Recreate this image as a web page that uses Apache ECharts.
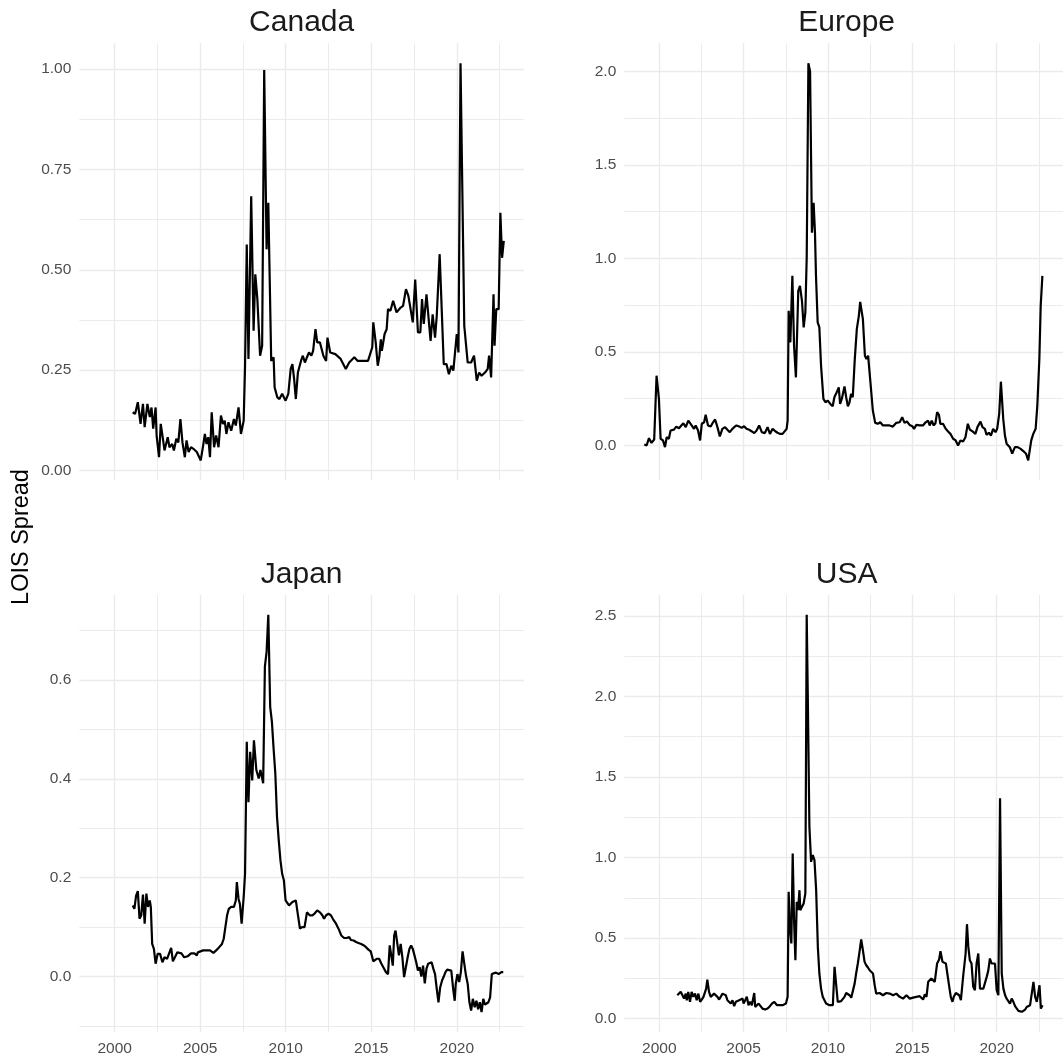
<!DOCTYPE html>
<html>
<head>
<meta charset="utf-8">
<title>LOIS Spread</title>
<script src="https://cdn.jsdelivr.net/npm/echarts@6/dist/echarts.min.js"></script>
<style>
  html, body { margin: 0; padding: 0; background: #ffffff; }
  #chart { width: 1063px; height: 1061px; }
</style>
</head>
<body>
<div id="chart"></div>
<script>
// LOIS spread by region: [decimal year, spread]
const canada = [
  [2001.05,0.145],[2001.19,0.141],[2001.35,0.170],[2001.51,0.116],[2001.65,0.166],[2001.75,0.108],[2001.91,0.166],
  [2002.05,0.133],[2002.15,0.157],[2002.25,0.104],[2002.39,0.157],[2002.45,0.087],[2002.59,0.033],[2002.69,0.116],
  [2002.83,0.075],[2002.91,0.050],[2003.10,0.083],[2003.20,0.058],[2003.36,0.066],[2003.46,0.050],[2003.60,0.079],
  [2003.72,0.070],[2003.84,0.128],[2003.96,0.070],[2004.10,0.033],[2004.20,0.075],[2004.32,0.046],[2004.46,0.058],
  [2004.60,0.054],[2004.80,0.046],[2005.03,0.025],[2005.17,0.062],[2005.27,0.091],[2005.37,0.066],[2005.47,0.083],
  [2005.57,0.033],[2005.67,0.145],[2005.81,0.058],[2005.93,0.087],[2006.07,0.058],[2006.21,0.137],[2006.33,0.116],
  [2006.43,0.124],[2006.53,0.091],[2006.65,0.120],[2006.81,0.099],[2006.97,0.128],[2007.08,0.112],[2007.24,0.157],
  [2007.38,0.091],[2007.54,0.124],[2007.62,0.261],[2007.72,0.563],[2007.82,0.278],[2007.98,0.683],[2008.12,0.348],
  [2008.22,0.489],[2008.34,0.427],[2008.50,0.286],[2008.62,0.311],[2008.74,0.998],[2008.88,0.551],[2008.98,0.667],
  [2009.15,0.273],[2009.29,0.282],[2009.35,0.207],[2009.51,0.182],[2009.63,0.178],[2009.79,0.191],[2009.99,0.174],
  [2010.15,0.191],[2010.29,0.253],[2010.39,0.265],[2010.49,0.228],[2010.59,0.178],[2010.71,0.244],[2010.89,0.273],
  [2011.00,0.286],[2011.12,0.269],[2011.24,0.282],[2011.36,0.294],[2011.50,0.286],[2011.60,0.298],[2011.74,0.352],
  [2011.84,0.319],[2012.00,0.319],[2012.20,0.286],[2012.36,0.273],[2012.44,0.331],[2012.60,0.294],[2012.90,0.290],
  [2013.21,0.278],[2013.51,0.253],[2013.71,0.269],[2014.01,0.282],[2014.21,0.273],[2014.81,0.273],[2015.06,0.307],
  [2015.12,0.369],[2015.26,0.319],[2015.38,0.261],[2015.48,0.286],[2015.56,0.327],[2015.62,0.298],[2015.78,0.340],
  [2015.90,0.352],[2015.98,0.402],[2016.12,0.398],[2016.28,0.423],[2016.48,0.394],[2016.72,0.406],[2016.86,0.410],
  [2017.03,0.452],[2017.17,0.435],[2017.43,0.369],[2017.57,0.476],[2017.73,0.344],[2017.87,0.344],[2017.97,0.427],
  [2018.07,0.365],[2018.23,0.439],[2018.47,0.323],[2018.59,0.389],[2018.73,0.331],[2018.83,0.385],[2019.00,0.539],
  [2019.24,0.265],[2019.40,0.265],[2019.54,0.240],[2019.68,0.261],[2019.80,0.249],[2020.00,0.340],[2020.10,0.294],
  [2020.22,1.015],[2020.44,0.360],[2020.64,0.269],[2020.84,0.269],[2021.01,0.286],[2021.17,0.224],[2021.31,0.244],
  [2021.45,0.236],[2021.65,0.244],[2021.81,0.253],[2021.89,0.286],[2022.01,0.232],[2022.15,0.439],[2022.21,0.311],
  [2022.31,0.402],[2022.45,0.402],[2022.55,0.642],[2022.65,0.530],[2022.75,0.572]
];

const europe = [
  [1999.11,0.005],[1999.25,0.000],[1999.39,0.039],[1999.54,0.014],[1999.70,0.032],[1999.84,0.373],[1999.98,0.249],
  [2000.08,0.036],[2000.22,0.027],[2000.34,-0.009],[2000.44,0.044],[2000.57,0.036],[2000.67,0.080],[2000.87,0.085],
  [2001.01,0.101],[2001.17,0.092],[2001.31,0.107],[2001.43,0.119],[2001.57,0.098],[2001.72,0.133],[2001.90,0.110],
  [2002.06,0.089],[2002.16,0.107],[2002.30,0.080],[2002.42,0.027],[2002.52,0.116],[2002.66,0.124],[2002.75,0.164],
  [2002.89,0.107],[2003.05,0.101],[2003.19,0.124],[2003.31,0.139],[2003.45,0.098],[2003.59,0.048],[2003.74,0.089],
  [2003.90,0.098],[2004.04,0.084],[2004.18,0.071],[2004.30,0.085],[2004.44,0.098],[2004.58,0.107],[2004.74,0.101],
  [2004.89,0.094],[2005.03,0.103],[2005.17,0.089],[2005.33,0.084],[2005.49,0.075],[2005.63,0.066],[2005.77,0.080],
  [2005.92,0.107],[2006.08,0.071],[2006.26,0.066],[2006.42,0.098],[2006.56,0.062],[2006.72,0.089],[2006.88,0.076],
  [2007.01,0.068],[2007.15,0.062],[2007.31,0.062],[2007.41,0.068],[2007.55,0.089],[2007.61,0.133],[2007.67,0.720],
  [2007.77,0.551],[2007.89,0.907],[2007.99,0.533],[2008.10,0.364],[2008.24,0.827],[2008.34,0.853],[2008.46,0.773],
  [2008.56,0.631],[2008.66,0.711],[2008.74,1.004],[2008.84,2.044],[2008.94,2.000],[2009.05,1.138],[2009.15,1.298],
  [2009.23,1.138],[2009.29,0.907],[2009.39,0.658],[2009.49,0.631],[2009.59,0.427],[2009.73,0.249],[2009.85,0.231],
  [2009.99,0.240],[2010.14,0.222],[2010.28,0.210],[2010.38,0.258],[2010.52,0.284],[2010.64,0.311],[2010.72,0.222],
  [2010.82,0.249],[2010.98,0.316],[2011.08,0.258],[2011.18,0.210],[2011.27,0.228],[2011.37,0.276],[2011.47,0.258],
  [2011.59,0.462],[2011.71,0.622],[2011.83,0.693],[2011.91,0.768],[2011.99,0.773],[2012.07,0.676],[2012.19,0.480],
  [2012.28,0.462],[2012.38,0.480],[2012.50,0.356],[2012.66,0.187],[2012.80,0.121],[2012.96,0.116],[2013.10,0.124],
  [2013.26,0.107],[2013.45,0.107],[2013.65,0.107],[2013.85,0.101],[2014.05,0.121],[2014.25,0.124],[2014.40,0.151],
  [2014.54,0.121],[2014.68,0.128],[2014.84,0.110],[2015.00,0.103],[2015.10,0.089],[2015.24,0.110],[2015.44,0.107],
  [2015.63,0.107],[2015.79,0.124],[2015.93,0.133],[2016.03,0.107],[2016.15,0.133],[2016.27,0.107],[2016.37,0.119],
  [2016.47,0.178],[2016.58,0.164],[2016.66,0.116],[2016.82,0.116],[2016.98,0.089],[2017.12,0.075],[2017.26,0.062],
  [2017.42,0.036],[2017.57,0.027],[2017.71,0.000],[2017.85,0.027],[2018.01,0.021],[2018.15,0.044],[2018.29,0.116],
  [2018.41,0.085],[2018.57,0.075],[2018.74,0.062],[2018.86,0.098],[2019.04,0.128],[2019.16,0.098],[2019.30,0.089],
  [2019.40,0.057],[2019.54,0.068],[2019.66,0.053],[2019.79,0.089],[2019.93,0.071],[2020.03,0.089],[2020.15,0.169],
  [2020.25,0.341],[2020.39,0.142],[2020.49,0.053],[2020.59,0.009],[2020.78,-0.009],[2020.92,-0.044],[2021.08,-0.009],
  [2021.24,-0.009],[2021.42,-0.018],[2021.58,-0.030],[2021.74,-0.044],[2021.87,-0.080],[2021.97,-0.080],[2022.05,0.027],
  [2022.17,0.062],[2022.31,0.089],[2022.41,0.213],[2022.53,0.462],[2022.61,0.747],[2022.71,0.907]
];

const japan = [
  [2001.05,0.144],[2001.15,0.137],[2001.25,0.164],[2001.35,0.173],[2001.45,0.117],[2001.55,0.124],[2001.65,0.166],
  [2001.75,0.107],[2001.85,0.168],[2001.95,0.141],[2002.05,0.154],[2002.11,0.141],[2002.19,0.066],[2002.29,0.056],
  [2002.39,0.026],[2002.51,0.046],[2002.65,0.046],[2002.79,0.029],[2002.91,0.039],[2003.06,0.036],[2003.16,0.039],
  [2003.30,0.058],[2003.40,0.031],[2003.52,0.039],[2003.66,0.049],[2003.76,0.046],[2003.90,0.047],[2004.06,0.039],
  [2004.26,0.041],[2004.46,0.047],[2004.66,0.047],[2004.80,0.043],[2004.86,0.049],[2004.96,0.049],[2005.17,0.053],
  [2005.37,0.053],[2005.57,0.053],[2005.77,0.048],[2005.93,0.053],[2006.07,0.058],[2006.27,0.066],[2006.37,0.076],
  [2006.47,0.100],[2006.57,0.124],[2006.67,0.137],[2006.81,0.141],[2006.97,0.141],[2007.08,0.154],[2007.14,0.191],
  [2007.24,0.157],[2007.32,0.147],[2007.42,0.107],[2007.54,0.161],[2007.62,0.208],[2007.72,0.475],[2007.82,0.353],
  [2007.92,0.455],[2008.04,0.397],[2008.14,0.478],[2008.28,0.418],[2008.42,0.401],[2008.52,0.418],[2008.68,0.391],
  [2008.78,0.627],[2008.88,0.657],[2008.98,0.732],[2009.09,0.546],[2009.19,0.516],[2009.29,0.461],[2009.39,0.411],
  [2009.49,0.323],[2009.59,0.276],[2009.69,0.235],[2009.79,0.208],[2009.89,0.195],[2009.99,0.154],[2010.09,0.151],
  [2010.19,0.144],[2010.29,0.141],[2010.39,0.151],[2010.49,0.154],[2010.59,0.154],[2010.69,0.130],[2010.83,0.097],
  [2010.95,0.100],[2011.10,0.100],[2011.24,0.130],[2011.40,0.124],[2011.56,0.124],[2011.70,0.128],[2011.84,0.134],
  [2012.00,0.130],[2012.14,0.124],[2012.24,0.117],[2012.36,0.124],[2012.50,0.127],[2012.64,0.124],[2012.80,0.114],
  [2012.94,0.107],[2013.11,0.095],[2013.25,0.083],[2013.41,0.078],[2013.57,0.078],[2013.71,0.080],[2013.81,0.074],
  [2013.97,0.073],[2014.11,0.070],[2014.25,0.068],[2014.41,0.066],[2014.57,0.063],[2014.71,0.059],[2014.85,0.054],
  [2014.97,0.051],[2015.12,0.031],[2015.22,0.031],[2015.32,0.036],[2015.46,0.036],[2015.58,0.027],[2015.72,0.018],
  [2015.86,0.009],[2015.98,0.005],[2016.08,0.063],[2016.16,0.065],[2016.26,0.022],[2016.34,0.083],[2016.42,0.093],
  [2016.52,0.097],[2016.62,0.043],[2016.72,0.066],[2016.82,0.039],[2016.92,-0.001],[2017.03,-0.003],[2017.13,0.039],
  [2017.23,0.056],[2017.33,0.063],[2017.43,0.056],[2017.53,0.053],[2017.63,0.029],[2017.73,0.012],[2017.83,0.019],
  [2017.93,0.000],[2018.03,0.022],[2018.13,-0.014],[2018.23,0.016],[2018.33,0.026],[2018.43,0.022],[2018.53,0.029],
  [2018.63,0.016],[2018.73,0.005],[2018.83,-0.025],[2018.93,-0.052],[2019.03,-0.022],[2019.14,-0.008],[2019.24,0.000],
  [2019.34,0.009],[2019.44,0.014],[2019.54,0.012],[2019.68,0.012],[2019.80,-0.028],[2019.88,-0.049],[2019.94,-0.015],
  [2020.04,0.005],[2020.14,-0.011],[2020.24,0.009],[2020.34,0.051],[2020.44,0.026],[2020.54,0.002],[2020.64,-0.015],
  [2020.74,-0.052],[2020.84,-0.069],[2020.94,-0.045],[2021.05,-0.062],[2021.15,-0.049],[2021.25,-0.066],[2021.35,-0.052],
  [2021.45,-0.072],[2021.55,-0.045],[2021.65,-0.057],[2021.75,-0.055],[2021.85,-0.052],[2021.95,-0.042],[2022.05,0.005],
  [2022.15,0.009],[2022.29,0.008],[2022.45,0.005],[2022.61,0.009],[2022.72,0.009]
];

const usa = [
  [2001.07,0.145],[2001.17,0.139],[2001.27,0.166],[2001.37,0.166],[2001.47,0.124],[2001.57,0.155],[2001.63,0.114],
  [2001.72,0.166],[2001.82,0.104],[2001.92,0.166],[2002.02,0.135],[2002.12,0.155],[2002.22,0.114],[2002.32,0.155],
  [2002.42,0.104],[2002.52,0.118],[2002.62,0.135],[2002.72,0.124],[2002.78,0.186],[2002.85,0.242],[2002.95,0.166],
  [2003.05,0.135],[2003.15,0.135],[2003.25,0.155],[2003.35,0.159],[2003.45,0.135],[2003.55,0.118],[2003.65,0.118],
  [2003.75,0.155],[2003.85,0.155],[2003.94,0.145],[2004.04,0.114],[2004.14,0.104],[2004.24,0.093],[2004.34,0.114],
  [2004.44,0.077],[2004.54,0.104],[2004.64,0.093],[2004.74,0.114],[2004.84,0.124],[2004.94,0.124],[2005.00,0.093],
  [2005.09,0.097],[2005.19,0.135],[2005.29,0.083],[2005.39,0.104],[2005.49,0.083],[2005.57,0.072],[2005.63,0.159],
  [2005.69,0.072],[2005.77,0.083],[2005.89,0.093],[2005.99,0.083],[2006.12,0.062],[2006.28,0.056],[2006.42,0.062],
  [2006.56,0.077],[2006.68,0.093],[2006.82,0.104],[2006.92,0.114],[2006.98,0.083],[2007.08,0.093],[2007.18,0.083],
  [2007.31,0.083],[2007.41,0.083],[2007.51,0.093],[2007.61,0.135],[2007.67,0.787],[2007.75,0.559],[2007.83,0.466],
  [2007.91,1.025],[2007.99,0.611],[2008.07,0.362],[2008.15,0.725],[2008.23,0.673],[2008.31,0.797],[2008.36,0.673],
  [2008.46,0.694],[2008.56,0.715],[2008.66,0.777],[2008.74,2.506],[2008.80,2.040],[2008.90,1.191],[2009.00,0.973],
  [2009.10,1.015],[2009.20,0.984],[2009.30,0.797],[2009.40,0.445],[2009.49,0.280],[2009.59,0.186],[2009.69,0.135],
  [2009.79,0.124],[2009.89,0.093],[2009.99,0.104],[2010.09,0.083],[2010.19,0.093],[2010.29,0.083],[2010.39,0.321],
  [2010.49,0.321],[2010.58,0.104],[2010.68,0.104],[2010.78,0.108],[2010.88,0.118],[2010.98,0.135],[2011.08,0.159],
  [2011.18,0.166],[2011.28,0.145],[2011.38,0.130],[2011.48,0.118],[2011.58,0.217],[2011.67,0.280],[2011.77,0.342],
  [2011.87,0.414],[2011.97,0.491],[2012.07,0.425],[2012.17,0.352],[2012.27,0.331],[2012.37,0.317],[2012.47,0.300],
  [2012.57,0.290],[2012.67,0.280],[2012.77,0.207],[2012.86,0.155],[2013.06,0.159],[2013.26,0.145],[2013.46,0.159],
  [2013.66,0.155],[2013.86,0.145],[2014.05,0.155],[2014.25,0.135],[2014.45,0.124],[2014.65,0.145],[2014.85,0.124],
  [2015.04,0.130],[2015.24,0.135],[2015.44,0.139],[2015.64,0.118],[2015.74,0.151],[2015.84,0.135],[2015.94,0.228],
  [2016.04,0.228],[2016.13,0.249],[2016.23,0.242],[2016.33,0.228],[2016.47,0.342],[2016.59,0.367],[2016.67,0.418],
  [2016.79,0.352],[2016.89,0.342],[2016.99,0.342],[2017.09,0.269],[2017.19,0.197],[2017.28,0.135],[2017.38,0.104],
  [2017.46,0.135],[2017.58,0.159],[2017.68,0.155],[2017.78,0.145],[2017.88,0.114],[2017.94,0.124],[2018.02,0.269],
  [2018.08,0.259],[2018.16,0.404],[2018.24,0.586],[2018.32,0.445],[2018.41,0.362],[2018.51,0.342],[2018.61,0.197],
  [2018.71,0.176],[2018.81,0.342],[2018.91,0.404],[2019.01,0.186],[2019.11,0.186],[2019.21,0.186],[2019.31,0.186],
  [2019.41,0.259],[2019.50,0.296],[2019.60,0.373],[2019.70,0.342],[2019.80,0.352],[2019.90,0.342],[2020.00,0.176],
  [2020.10,0.145],[2020.20,1.367],[2020.30,0.280],[2020.40,0.186],[2020.50,0.145],[2020.59,0.124],[2020.69,0.118],
  [2020.79,0.093],[2020.89,0.124],[2020.99,0.104],[2021.09,0.077],[2021.19,0.083],[2021.29,0.048],[2021.39,0.040],
  [2021.49,0.042],[2021.59,0.046],[2021.69,0.056],[2021.78,0.072],[2021.88,0.083],[2021.98,0.083],[2022.08,0.093],
  [2022.18,0.228],[2022.28,0.135],[2022.38,0.104],[2022.48,0.093],[2022.54,0.207],[2022.62,0.062],[2022.72,0.083]
];

// Axis breaks (labelled) and minor breaks (gridlines only)
const yearBreaks = [2000, 2005, 2010, 2015, 2020];
const yearMinorBreaks = [2002.5, 2007.5, 2012.5, 2017.5, 2022.5];
const canadaBreaks = [0, 0.25, 0.5, 0.75, 1.0];
const canadaMinorBreaks = [0.125, 0.375, 0.625, 0.875];
const europeBreaks = [0, 0.5, 1.0, 1.5, 2.0];
const europeMinorBreaks = [0.25, 0.75, 1.25, 1.75];
const japanBreaks = [0, 0.2, 0.4, 0.6];
const japanMinorBreaks = [-0.1, 0.1, 0.3, 0.5, 0.7];
const usaBreaks = [0, 0.5, 1.0, 1.5, 2.0, 2.5];
const usaMinorBreaks = [0.25, 0.75, 1.25, 1.75, 2.25];

const panelNames = ['Canada', 'Europe', 'Japan', 'USA'];

// Facet definitions: free y scales, shared x scale
const panels = [
  { name: panelNames[0], data: canada, breaks: canadaBreaks, minor: canadaMinorBreaks, digits: 2, col: 0, row: 0 },
  { name: panelNames[1], data: europe, breaks: europeBreaks, minor: europeMinorBreaks, digits: 1, col: 1, row: 0 },
  { name: panelNames[2], data: japan, breaks: japanBreaks, minor: japanMinorBreaks, digits: 1, col: 0, row: 1 },
  { name: panelNames[3], data: usa, breaks: usaBreaks, minor: usaMinorBreaks, digits: 1, col: 1, row: 1 }
];

// Continuous scale limits padded by 5% of the data range on each side
function expandRange(values) {
  const lo = Math.min(...values), hi = Math.max(...values);
  const pad = (hi - lo) * 0.05;
  return [lo - pad, hi + pad];
}
const allYears = panels.flatMap(p => p.data.map(d => d[0]));
const [xMin, xMax] = expandRange(allYears);

// Layout of the 2x2 panel grid (pixels)
const PANEL_LEFT = [79.3, 624.3];
const PANEL_TOP = [43.3, 595];
const PANEL_W = 444.7;
const PANEL_H = 437;

const FONT = '"Liberation Sans", Arial, Helvetica, sans-serif';
const GRID_COLOR = '#EBEBEB';
const TICK_TEXT = '#4D4D4D';

const grids = [], xAxes = [], yAxes = [], series = [], graphics = [];

panels.forEach((p, i) => {
  const left = PANEL_LEFT[p.col], top = PANEL_TOP[p.row];
  grids.push({ left: left, top: top, width: PANEL_W, height: PANEL_H, containLabel: false });

  const [yMin, yMax] = expandRange(p.data.map(d => d[1]));
  const showX = p.row === 1;

  // major x (labelled) and minor x (gridlines)
  xAxes.push({
    type: 'value', gridIndex: i, min: xMin, max: xMax,
    axisLine: { show: false, onZero: false },
    axisTick: { show: false, customValues: yearBreaks },
    axisLabel: { show: showX, customValues: yearBreaks, formatter: v => String(Math.round(v)),
      color: TICK_TEXT, fontSize: 15.5, fontFamily: FONT, margin: 9 },
    splitLine: { show: true, lineStyle: { color: GRID_COLOR, width: 1.4 } }
  });
  xAxes.push({
    type: 'value', gridIndex: i, min: xMin, max: xMax,
    axisLine: { show: false, onZero: false },
    axisTick: { show: false, customValues: yearMinorBreaks },
    axisLabel: { show: false },
    splitLine: { show: true, lineStyle: { color: GRID_COLOR, width: 1.0 } }
  });

  yAxes.push({
    type: 'value', gridIndex: i, min: yMin, max: yMax,
    axisLine: { show: false, onZero: false },
    axisTick: { show: false, customValues: p.breaks },
    axisLabel: { show: true, customValues: p.breaks, formatter: v => v.toFixed(p.digits),
      color: TICK_TEXT, fontSize: 15.5, fontFamily: FONT, margin: 8 },
    splitLine: { show: true, lineStyle: { color: GRID_COLOR, width: 1.4 } }
  });
  yAxes.push({
    type: 'value', gridIndex: i, min: yMin, max: yMax,
    axisLine: { show: false, onZero: false },
    axisTick: { show: false, customValues: p.minor },
    axisLabel: { show: false },
    splitLine: { show: true, lineStyle: { color: GRID_COLOR, width: 1.0 } }
  });

  series.push({
    type: 'line', name: p.name, xAxisIndex: 2 * i, yAxisIndex: 2 * i,
    data: p.data, showSymbol: false, symbol: 'none', silent: true,
    lineStyle: { color: '#000000', width: 2.2 }, clip: true
  });

  // facet strip label
  graphics.push({
    type: 'text', x: left + PANEL_W / 2, y: top - 20.4, silent: true,
    style: { text: p.name, font: '30px ' + FONT, fill: '#1A1A1A', align: 'center', verticalAlign: 'middle' }
  });
});

// shared y-axis title
graphics.push({
  type: 'text', x: 22, y: 537, rotation: Math.PI / 2, silent: true,
  style: { text: 'LOIS Spread', font: '23.5px ' + FONT, fill: '#000000', align: 'center', verticalAlign: 'middle' }
});

const chart = echarts.init(document.getElementById('chart'), null, { renderer: 'canvas' });
chart.setOption({
  animation: false,
  backgroundColor: '#ffffff',
  grid: grids,
  xAxis: xAxes,
  yAxis: yAxes,
  series: series,
  graphic: graphics
});
</script>
</body>
</html>
